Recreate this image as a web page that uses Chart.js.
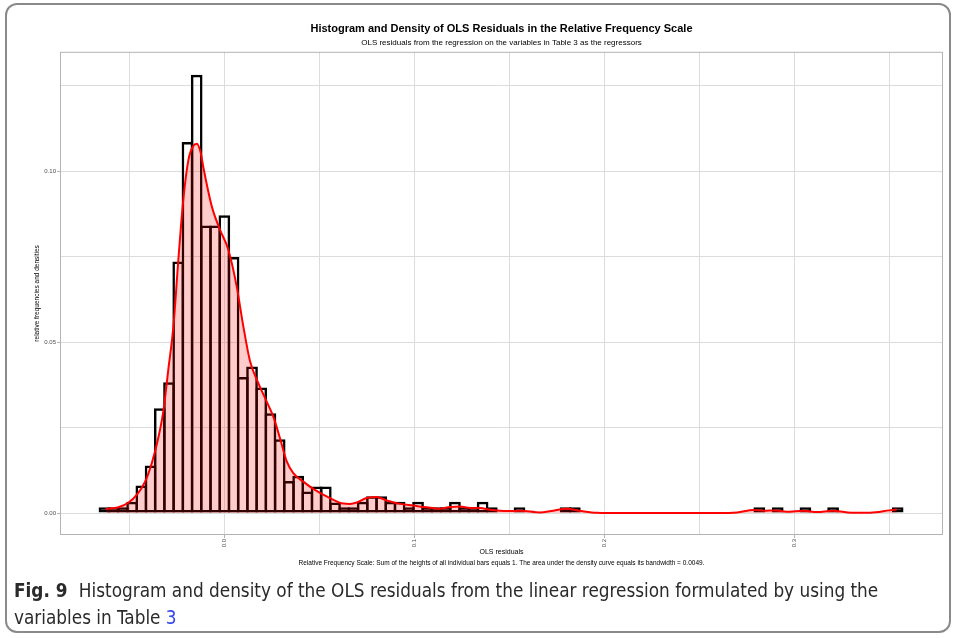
<!DOCTYPE html>
<html>
<head>
<meta charset="utf-8">
<script src="https://cdn.jsdelivr.net/npm/chart.js@4.4.1/dist/chart.umd.min.js"></script>
<style>
  body { margin: 0; background: #fff; width: 957px; height: 638px; overflow: hidden; position: relative; }
  #wrap { position: absolute; left: 0; top: 0; width: 957px; height: 638px; }
  #frame { position: absolute; left: 5px; top: 3px; width: 942px; height: 626px; border: 2px solid #8a8a8a; border-radius: 12px; pointer-events: none; }
  #note { position: absolute; left: 60px; width: 883px; top: 559px; text-align: center; font: 6.5px 'Liberation Sans', Arial, sans-serif; color: #000; }
  #caption { position: absolute; left: 14px; top: 577px; width: 930px; font: 18.8px 'DejaVu Sans Condensed', 'Liberation Sans', sans-serif; line-height: 27px; color: #2a2a2a; }
  #caption b { font-weight: bold; margin-right: 6px; }
  #caption a { color: #3344ee; text-decoration: none; }
</style>
</head>
<body>
<div id="wrap"><canvas id="chart_hist" width="957" height="638"></canvas></div>
<div id="note">Relative Frequency Scale: Sum of the heights of all individual bars equals 1. The area under the density curve equals its bandwidth = 0.0049.</div>
<div id="caption"><b>Fig. 9</b> Histogram and density of the OLS residuals from the linear regression formulated by using the<br>variables in Table <a>3</a></div>
<div id="frame"></div>
<script>
const canvas = document.getElementById("chart_hist");

// histogram bins (relative frequencies)
const binStart = -0.06553;
const binWidth = 0.004855;
const relFreq = [
    0.0017, 0.0017, 0.0017, 0.0033, 0.0081, 0.0139, 0.0307, 0.0383, 0.0736, 0.1085,
    0.1282, 0.0841, 0.0841, 0.0871, 0.0749, 0.0398, 0.0429, 0.0367, 0.0292, 0.0216,
    0.0094, 0.0109, 0.0063, 0.0078, 0.0078, 0.0031, 0.0017, 0.0017, 0.0033, 0.0049,
    0.0049, 0.0033, 0.0033, 0.0017, 0.0033, 0.0017, 0.0017, 0.0017, 0.0033, 0.0017,
    0.0017, 0.0033, 0.0017, 0, 0, 0.0017, 0, 0, 0, 0,
    0.0017, 0.0017, 0, 0, 0, 0, 0, 0, 0, 0,
    0, 0, 0, 0, 0, 0, 0, 0, 0, 0,
    0, 0.0017, 0, 0.0017, 0, 0, 0.0017, 0, 0, 0.0017,
    0, 0, 0, 0, 0, 0, 0.0017
];

// density curve
const densX = [
    -0.0625, -0.0557, -0.0504, -0.0460, -0.0417, -0.0382, -0.0346, -0.0320, -0.0295, -0.0268,
    -0.0242, -0.0216, -0.0189, -0.0163, -0.0145, -0.0124, -0.0111, -0.0066, -0.0023, 0.0021,
    0.0065, 0.0100, 0.0135, 0.0179, 0.0223, 0.0258, 0.0293, 0.0328, 0.0363, 0.0416,
    0.0470, 0.0556, 0.0626, 0.0662, 0.0697, 0.0749, 0.0802, 0.0855, 0.0925, 0.0995,
    0.1065, 0.1135, 0.1188, 0.1241, 0.1293, 0.1346, 0.1398, 0.1488, 0.1556, 0.1662,
    0.1720, 0.1800, 0.1880, 0.1960, 0.2100, 0.2600, 0.2700, 0.2786, 0.2840, 0.2900,
    0.2960, 0.3050, 0.3120, 0.3200, 0.3280, 0.3400, 0.3500, 0.3540
];
const densY = [
    0.0012, 0.0017, 0.0031, 0.0054, 0.0092, 0.0146, 0.0224, 0.0302, 0.0419, 0.0546,
    0.0741, 0.0916, 0.1033, 0.1074, 0.1080, 0.1053, 0.1013, 0.0897, 0.0829, 0.0770,
    0.0663, 0.0546, 0.0445, 0.0380, 0.0326, 0.0282, 0.0219, 0.0152, 0.0117, 0.0092,
    0.0070, 0.0044, 0.0028, 0.0027, 0.0031, 0.0044, 0.0047, 0.0037, 0.0027, 0.0022,
    0.0017, 0.0013, 0.0018, 0.0019, 0.0015, 0.0015, 0.0010, 0.0006, 0.0007, 0.0002,
    0.0006, 0.0013, 0.0006, 0.0001, 0.0000, 0.0000, 0.0002, 0.0009, 0.0007, 0.0008,
    0.0004, 0.0007, 0.0003, 0.0007, 0.0002, 0.0001, 0.0008, 0.0011
];

const xRange = [-0.0865, 0.3783];
const yRange = [-0.0064, 0.1349];

const histPoints = relFreq.map((v, i) => ({ x: binStart + binWidth * (i + 0.5), y: v }));
const densPoints = densX.map((x, i) => ({ x: x, y: densY[i] }));

const gridGrey = '#dcdcdc';
const axisGrey = '#b3b3b3';
const outline = 2.5;

const panelBorder = {
    id: 'panelBorder',
    afterDraw(chart) {
        const a = chart.chartArea;
        const ctx = chart.ctx;
        ctx.save();
        ctx.strokeStyle = axisGrey;
        ctx.lineWidth = 1;
        ctx.strokeRect(a.left + 0.5, a.top + 0.5, a.right - a.left - 1, a.bottom - a.top - 1);
        ctx.restore();
    }
};

new Chart(canvas, {
    data: {
        datasets: [
            {
                type: 'line',
                label: 'density',
                data: densPoints,
                borderColor: '#ff0000',
                borderWidth: 2,
                backgroundColor: 'rgba(255, 0, 0, 0.2)',
                fill: 'origin',
                pointRadius: 0,
                cubicInterpolationMode: 'monotone',
                order: 0
            },
            {
                type: 'bar',
                label: 'histogram',
                data: histPoints,
                backgroundColor: 'rgba(0,0,0,0)',
                borderColor: '#000000',
                borderWidth: outline,
                borderSkipped: false,
                inflateAmount: 0,
                // outline overlaps its neighbour so shared edges keep one line width
                barPercentage: 1.27,
                categoryPercentage: 1,
                order: 1
            }
        ]
    },
    plugins: [panelBorder],
    options: {
        responsive: false,
        animation: false,
        layout: {
            padding: { left: 8, right: 14, top: 0, bottom: 81 }
        },
        scales: {
            x: {
                type: 'linear',
                offset: false,
                min: xRange[0],
                max: xRange[1],
                afterFit: (scale) => { scale.height = 22; },
                grid: {
                    offset: false,
                    color: gridGrey,
                    tickLength: 3,
                    tickColor: (ctx) => (ctx.tick && Math.round(ctx.tick.value * 100) % 10 === 0) ? axisGrey : 'rgba(0,0,0,0)'
                },
                border: { display: false },
                ticks: {
                    stepSize: 0.05,
                    includeBounds: false,
                    autoSkip: false,
                    minRotation: 90,
                    maxRotation: 90,
                    padding: 1,
                    color: '#4d4d4d',
                    font: { family: 'Liberation Sans', size: 6 },
                    callback: (v) => Math.round(v * 100) % 10 === 0 ? v.toFixed(1) : ''
                },
                title: {
                    display: true,
                    text: 'OLS residuals',
                    color: '#000',
                    font: { family: 'Liberation Sans', size: 7 },
                    padding: { top: 0, bottom: 1 }
                }
            },
            y: {
                min: yRange[0],
                max: yRange[1],
                afterFit: (scale) => { scale.width = 52; },
                grid: {
                    color: gridGrey,
                    tickLength: 3,
                    tickColor: (ctx) => (ctx.tick && Math.round(ctx.tick.value * 1000) % 50 === 0) ? axisGrey : 'rgba(0,0,0,0)'
                },
                border: { display: false },
                ticks: {
                    stepSize: 0.025,
                    includeBounds: false,
                    autoSkip: false,
                    padding: 1,
                    color: '#4d4d4d',
                    font: { family: 'Liberation Sans', size: 6 },
                    callback: (v) => Math.round(v * 1000) % 50 === 0 ? v.toFixed(2) : ''
                },
                title: {
                    display: true,
                    text: 'relative frequencies and densities',
                    color: '#000',
                    font: { family: 'Liberation Sans', size: 6.5 },
                    padding: { top: 25, bottom: 0 }
                }
            }
        },
        plugins: {
            legend: { display: false },
            tooltip: { enabled: false },
            title: {
                display: true,
                fullSize: false,
                text: 'Histogram and Density of OLS Residuals in the Relative Frequency Scale',
                color: '#000',
                font: { family: 'Liberation Sans', size: 11, weight: 'bold' },
                padding: { top: 22, bottom: 1 }
            },
            subtitle: {
                display: true,
                fullSize: false,
                text: 'OLS residuals from the regression on the variables in Table 3 as the regressors',
                color: '#000',
                font: { family: 'Liberation Sans', size: 8 },
                padding: { top: 2, bottom: 4 }
            }
        }
    }
});
</script>
</body>
</html>
